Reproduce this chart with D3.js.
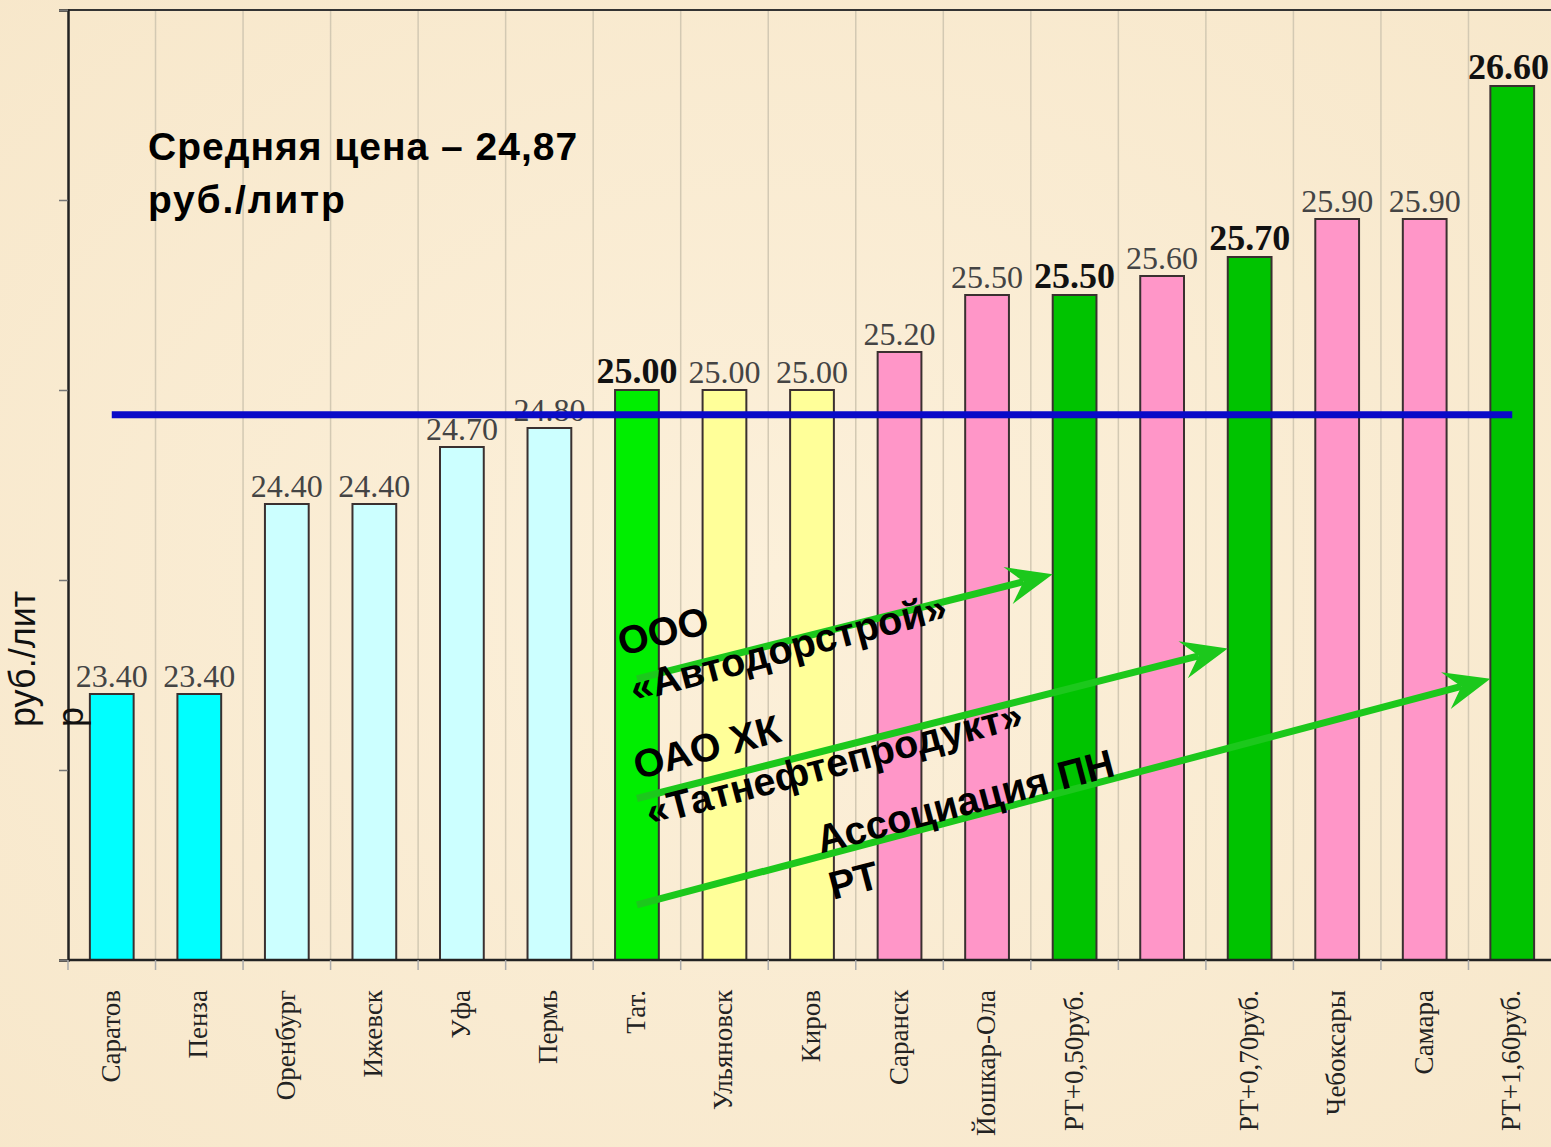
<!DOCTYPE html>
<html>
<head>
<meta charset="utf-8">
<script src="https://cdn.jsdelivr.net/npm/d3@7"></script>
<style>
  html, body { margin: 0; padding: 0; background: #f8ebd2; }
  svg { display: block; }
</style>
</head>
<body>
<svg id="chart" width="1551" height="1147"></svg>
<script>
// ---------- data ----------
const categories = ["Саратов", "Пенза", "Оренбург", "Ижевск", "Уфа", "Пермь", "Тат.",
  "Ульяновск", "Киров", "Саранск", "Йошкар-Ола", "РТ+0,50руб.", "", "РТ+0,70руб.",
  "Чебоксары", "Самара", "РТ+1,60руб."];
const prices = [23.40, 23.40, 24.40, 24.40, 24.70, 24.80, 25.00, 25.00, 25.00, 25.20,
  25.50, 25.50, 25.60, 25.70, 25.90, 25.90, 26.60];
const groups = ["low", "low", "light", "light", "light", "light", "tat", "neigh", "neigh",
  "high", "high", "rt", "high", "rt", "high", "high", "rt"];
const groupKeys = ["low", "light", "tat", "neigh", "high", "rt"];
const groupColors = ["#00ffff", "#ccffff", "#00ee00", "#ffff99", "#ff96c8", "#00c300"];
const yTicks = [22, 23, 24, 25, 26, 27];
const averagePrice = 24.87;
const titleLines = ["Средняя цена – 24,87", "руб./литр"];
const yLabelLines = ["руб./лит", "р"];
// arrows: from (category index, price) to (category index of target bar, price)
const arrowFrom = [[6, 23.48], [6, 22.85], [6, 22.29]];
const arrowTo = [[11, 24.03], [13, 23.64], [16, 23.48]];
const noteLines = [["ООО", "«Автодорстрой»"], ["ОАО ХК", "«Татнефтепродукт»"], ["Ассоциация ПН", "РТ"]];
const noteAnchor = [[5.83, 23.60], [6.01, 22.95], [8.10, 22.56]];

(function () {
// ---------- layout ----------
const svg = d3.select("#chart");
const W = 1551, H = 1147;
const mLeft = 68, mTop = 10, mBottom = 960, mRight = 1556;

// background
const defs = svg.append("defs");
const rg = defs.append("radialGradient").attr("id", "bg").attr("cx", "50%").attr("cy", "50%").attr("r", "75%");
rg.append("stop").attr("offset", "0%").attr("stop-color", "#fcf0da");
rg.append("stop").attr("offset", "100%").attr("stop-color", "#f7e7ca");
svg.append("rect").attr("width", W).attr("height", H).attr("fill", "url(#bg)");

const x = d3.scaleBand().domain(d3.range(categories.length)).range([mLeft, mRight])
  .paddingInner(0.5).paddingOuter(0.25);
const bw = x.bandwidth();
const xc = d3.scaleLinear().domain([0, categories.length - 1])
  .range([x(0) + bw / 2, x(categories.length - 1) + bw / 2]);
const y = d3.scaleLinear().domain([22, 27]).range([mBottom, mTop]);
const color = d3.scaleOrdinal().domain(groupKeys).range(groupColors);

// vertical gridlines at band boundaries
const step = x.step();
const bounds = d3.range(1, categories.length).map(i => x(i) - step * x.paddingInner() / 2);
svg.append("g").selectAll("line").data(bounds).join("line")
  .attr("x1", d => d).attr("x2", d => d).attr("y1", mTop).attr("y2", mBottom)
  .attr("stroke", "#d3c9b3").attr("stroke-width", 1.5);

// top frame line
svg.append("line").attr("x1", mLeft).attr("x2", W).attr("y1", mTop).attr("y2", mTop)
  .attr("stroke", "#333").attr("stroke-width", 2);

// y axis (no labels)
const yAxis = svg.append("g").attr("transform", `translate(${mLeft},0)`)
  .call(d3.axisLeft(y).tickValues(yTicks).tickSize(9).tickFormat(""));
yAxis.select(".domain").attr("stroke", "#222").attr("stroke-width", 2.5);
yAxis.selectAll(".tick line").attr("stroke", "#777").attr("stroke-width", 1.5);

// bars
svg.append("g").selectAll("rect").data(prices).join("rect")
  .attr("x", (d, i) => x(i)).attr("width", bw)
  .attr("y", d => y(d)).attr("height", d => mBottom - y(d))
  .attr("fill", (d, i) => color(groups[i]))
  .attr("stroke", "#3a3030").attr("stroke-width", 2);

// x axis
const xAxis = svg.append("g").attr("transform", `translate(0,${mBottom})`);
xAxis.append("line").attr("x1", mLeft).attr("x2", W).attr("y1", 0).attr("y2", 0)
  .attr("stroke", "#222").attr("stroke-width", 2.5);
xAxis.selectAll("line.tk").data([mLeft].concat(bounds)).join("line").attr("class", "tk")
  .attr("x1", d => d).attr("x2", d => d).attr("y1", 0).attr("y2", 10)
  .attr("stroke", "#aaa").attr("stroke-width", 1.5);
xAxis.selectAll("text").data(categories).join("text")
  .attr("transform", (d, i) => `translate(${x(i) + bw / 2 + 8},30) rotate(-90)`)
  .attr("text-anchor", "end")
  .attr("font-family", "'Liberation Serif', 'Times New Roman', serif")
  .attr("font-size", 27).attr("fill", "#222")
  .text(d => d);

// value labels
const bold = g => g === "tat" || g === "rt";
svg.append("g").selectAll("text").data(prices).join("text")
  .attr("x", (d, i) => x(i) + bw / 2).attr("y", d => y(d) - 7)
  .attr("text-anchor", "middle")
  .attr("font-family", "'Liberation Serif', 'Times New Roman', serif")
  .attr("font-size", (d, i) => bold(groups[i]) ? 36 : 32)
  .attr("font-weight", (d, i) => bold(groups[i]) ? "bold" : "normal")
  .attr("fill", (d, i) => bold(groups[i]) ? "#111" : "#444")
  .text(d => d3.format(".2f")(d))
  .each(function (d, i) {
    const half = this.getComputedTextLength() / 2;
    const cx = x(i) + bw / 2;
    if (cx + half > W - 2) d3.select(this).attr("x", W - 2 - half);
  });

// average line
svg.append("line")
  .attr("x1", xc(0)).attr("x2", xc(categories.length - 1))
  .attr("y1", y(averagePrice)).attr("y2", y(averagePrice))
  .attr("stroke", "#0a0ac8").attr("stroke-width", 7);

// arrows
const green = "#1cc81c";
arrowFrom.forEach((f, k) => {
  const t = arrowTo[k];
  const x1 = xc(f[0]), y1 = y(f[1]);
  const x2 = x(t[0]), y2 = y(t[1]);
  const ang = Math.atan2(y2 - y1, x2 - x1);
  const L = 46, Wd = 19, notch = 30;
  const ux = Math.cos(ang), uy = Math.sin(ang), px = -uy, py = ux;
  svg.append("line").attr("x1", x1).attr("y1", y1)
    .attr("x2", x2 - ux * notch).attr("y2", y2 - uy * notch)
    .attr("stroke", green).attr("stroke-width", 7);
  const pts = [
    [x2, y2],
    [x2 - ux * L + px * Wd, y2 - uy * L + py * Wd],
    [x2 - ux * notch, y2 - uy * notch],
    [x2 - ux * L - px * Wd, y2 - uy * L - py * Wd]
  ];
  svg.append("polygon").attr("points", pts.map(p => p.join(",")).join(" ")).attr("fill", green);
});

// annotation texts
noteLines.forEach((lines, k) => {
  const a = noteAnchor[k];
  const t = svg.append("text")
    .attr("transform", `translate(${xc(a[0])},${y(a[1])}) rotate(-14.8)`)
    .attr("font-family", "'Liberation Sans', Arial, sans-serif")
    .attr("font-weight", "bold").attr("font-size", 39.5).attr("fill", "#000");
  lines.forEach((s, j) => t.append("tspan").attr("x", 0).attr("y", j * 48).text(s));
});

// title
const tt = svg.append("text").attr("font-family", "'Liberation Sans', Arial, sans-serif")
  .attr("font-weight", "bold").attr("font-size", 39).attr("fill", "#000");
titleLines.forEach((s, j) => tt.append("tspan").attr("x", 148).attr("y", 160 + j * 53)
  .attr("letter-spacing", j === 0 ? 1 : 1.8).text(s));

// y axis label
const yl = svg.append("text").attr("transform", "rotate(-90)")
  .attr("font-family", "'Liberation Sans', Arial, sans-serif")
  .attr("font-size", 36).attr("fill", "#111");
yLabelLines.forEach((s, j) => yl.append("tspan").attr("x", -727).attr("y", 35 + j * 48).text(s));
})();
</script>
</body>
</html>
